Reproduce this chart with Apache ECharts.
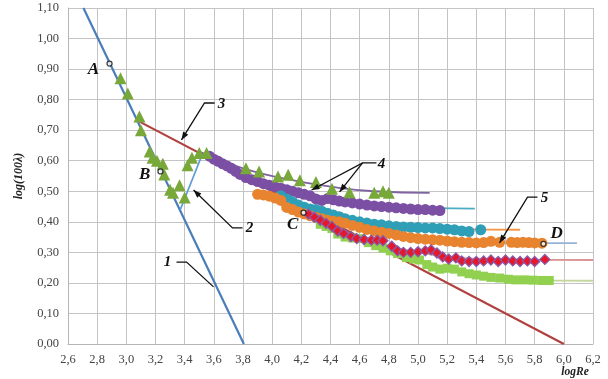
<!DOCTYPE html>
<html>
<head>
<meta charset="utf-8">
<script src="https://cdn.jsdelivr.net/npm/echarts@6/dist/echarts.min.js"></script>
<style>
html, body { margin: 0; padding: 0; background: #fff; }
#chart { width: 608px; height: 379px; }
</style>
</head>
<body>
<div id="chart"></div>
<script>
// theory lines
const laminarLine = [[2.706, 1.10], [3.806, 0.00]];
const transitionLine = [[3.37, 0.44], [3.52, 0.62]];
const blasiusLine = [[3.09, 0.728], [6.00, 0.00]];

// measured points
const triangles = [[2.96,0.87],[3.01,0.82],[3.09,0.745],[3.10,0.70],[3.16,0.63],[3.18,0.61],[3.21,0.60],[3.25,0.59],[3.26,0.555],[3.30,0.505],[3.32,0.495],[3.365,0.52],[3.40,0.48],[3.42,0.585],[3.45,0.61],[3.50,0.625],[3.55,0.625],[3.82,0.575],[3.91,0.565],[4.04,0.548],[4.11,0.554],[4.19,0.536],[4.30,0.53],[4.41,0.508],[4.53,0.497],[4.70,0.495],[4.76,0.50],[4.80,0.495]];
const purpleDots = [[3.57,0.615],[3.60,0.605],[3.63,0.598],[3.66,0.59],[3.69,0.583],[3.72,0.575],[3.75,0.565],[3.78,0.555],[3.82,0.545],[3.86,0.538],[3.90,0.532],[3.94,0.525],[3.98,0.52],[4.02,0.514],[4.06,0.51],[4.10,0.505],[4.14,0.50],[4.18,0.495],[4.22,0.49],[4.26,0.485],[4.30,0.475],[4.34,0.47],[4.38,0.476],[4.42,0.472],[4.46,0.468],[4.50,0.465],[4.55,0.462],[4.60,0.458],[4.65,0.455],[4.70,0.452],[4.75,0.45],[4.80,0.448],[4.85,0.446],[4.90,0.444],[4.95,0.442],[5.00,0.44],[5.05,0.44],[5.10,0.438],[5.15,0.437]];
const tealDots = [[4.06,0.485],[4.10,0.475],[4.14,0.465],[4.18,0.455],[4.22,0.448],[4.26,0.442],[4.30,0.44],[4.34,0.435],[4.38,0.428],[4.42,0.422],[4.46,0.417],[4.50,0.41],[4.55,0.405],[4.60,0.40],[4.65,0.396],[4.70,0.392],[4.75,0.39],[4.80,0.387],[4.85,0.385],[4.90,0.383],[4.95,0.382],[5.00,0.381],[5.05,0.38],[5.10,0.38],[5.15,0.378],[5.20,0.376],[5.25,0.374],[5.30,0.37],[5.35,0.368],[5.43,0.374]];
const orangeDots = [[3.90,0.49],[3.94,0.488],[3.98,0.484],[4.02,0.478],[4.06,0.47],[4.10,0.447],[4.14,0.44],[4.18,0.432],[4.22,0.426],[4.26,0.42],[4.30,0.415],[4.34,0.41],[4.38,0.405],[4.42,0.402],[4.46,0.40],[4.50,0.395],[4.55,0.388],[4.60,0.382],[4.65,0.375],[4.70,0.37],[4.75,0.366],[4.80,0.362],[4.85,0.357],[4.90,0.352],[4.95,0.348],[5.00,0.345],[5.05,0.343],[5.10,0.341],[5.15,0.34],[5.20,0.337],[5.25,0.335],[5.30,0.333],[5.35,0.332],[5.40,0.331],[5.45,0.332],[5.50,0.336],[5.56,0.333],[5.64,0.333],[5.68,0.332],[5.72,0.333],[5.76,0.332],[5.80,0.331],[5.85,0.33]];
const redDiamonds = [[4.25,0.425],[4.29,0.415],[4.33,0.405],[4.37,0.395],[4.41,0.385],[4.45,0.37],[4.49,0.362],[4.54,0.352],[4.58,0.345],[4.63,0.342],[4.68,0.34],[4.72,0.34],[4.76,0.338],[4.82,0.32],[4.86,0.305],[4.90,0.30],[4.95,0.30],[5.00,0.302],[5.05,0.305],[5.09,0.308],[5.13,0.298],[5.17,0.285],[5.21,0.278],[5.26,0.282],[5.30,0.272],[5.35,0.27],[5.40,0.27],[5.45,0.272],[5.50,0.275],[5.55,0.27],[5.60,0.275],[5.65,0.272],[5.70,0.27],[5.75,0.272],[5.80,0.27],[5.87,0.277]];
const greenSquares = [[4.33,0.392],[4.37,0.385],[4.41,0.378],[4.45,0.36],[4.50,0.35],[4.55,0.347],[4.61,0.345],[4.66,0.332],[4.71,0.322],[4.76,0.314],[4.81,0.305],[4.86,0.296],[4.92,0.283],[4.97,0.278],[5.01,0.275],[5.06,0.26],[5.10,0.252],[5.15,0.245],[5.20,0.248],[5.25,0.245],[5.30,0.236],[5.35,0.23],[5.40,0.226],[5.45,0.222],[5.50,0.218],[5.56,0.216],[5.62,0.212],[5.67,0.21],[5.73,0.21],[5.79,0.209],[5.85,0.208],[5.90,0.208]];

// fitted curves (thin lines)
const fitPurple = [[3.50,0.63],[3.80,0.575],[4.10,0.54],[4.40,0.515],[4.70,0.50],[5.08,0.495]];
const fitTeal = [[3.60,0.60],[4.00,0.52],[4.40,0.47],[4.80,0.45],[5.39,0.443]];
const fitOrange = [[4.00,0.49],[4.40,0.42],[4.80,0.385],[5.20,0.377],[5.70,0.374]];
const fitLightBlue = [[3.90,0.49],[4.40,0.40],[4.80,0.355],[5.40,0.333],[6.09,0.33]];
const fitPink = [[4.20,0.43],[4.60,0.35],[5.00,0.30],[5.50,0.278],[6.20,0.275]];
const fitLightGreen = [[4.30,0.39],[4.80,0.31],[5.20,0.25],[5.70,0.21],[6.20,0.207]];

// labelled points A-D
const pointNames = ["A", "B", "C", "D"];
const pointCoords = [[2.885,0.918],[3.234,0.565],[4.215,0.43],[5.86,0.328]];
const pointLabelCoords = [[2.775,0.897],[3.125,0.553],[4.14,0.39],[5.95,0.363]];

// numbered leaders: text position, then polyline, last point gets an arrow
const leaderNames = ["1", "2", "3", "4", "4", "5"];
const leaderText = [[3.282,0.268],[3.845,0.38],[3.652,0.786],[4.749,0.589],null,[5.867,0.478]];
const leaderPaths = [
    [[3.344,0.268],[3.413,0.268],[3.598,0.187]],
    [[3.797,0.38],[3.728,0.38],[3.461,0.504]],
    [[3.605,0.789],[3.536,0.789],[3.378,0.668]],
    [[4.715,0.593],[4.62,0.593],[4.27,0.504]],
    [[4.62,0.593],[4.462,0.498]],
    [[5.819,0.481],[5.751,0.481],[5.559,0.331]]
];

const serif = '"Liberation Serif", "DejaVu Serif", serif';

const chart = echarts.init(document.getElementById("chart"));

function fitLine(data, color) {
    return {
        type: "line", data: data, smooth: true, symbol: "none", z: 1,
        lineStyle: { color: color, width: 1.8 }
    };
}
function dots(data, symbol, size, color, border) {
    return {
        type: "scatter", data: data, symbol: symbol, symbolSize: size, z: 3,
        itemStyle: { color: color, opacity: 1, borderColor: border || color, borderWidth: border ? 1.3 : 0 }
    };
}

const option = {
    animation: false,
    grid: { left: 68, right: 15, top: 8, bottom: 35 },
    xAxis: {
        type: "value", min: 2.6, max: 6.2, interval: 0.2,
        axisLine: { show: true, lineStyle: { color: "#b5b5b5" } },
        axisTick: { show: false },
        axisLabel: {
            color: "#444", fontFamily: serif, fontSize: 12.5, margin: 9,
            formatter: (v) => v.toFixed(1).replace(".", ",")
        },
        splitLine: { show: true, lineStyle: { color: "#c4c4c4", width: 1 } }
    },
    yAxis: {
        type: "value", min: 0, max: 1.1, interval: 0.1,
        name: "log(100λ)", nameLocation: "middle", nameGap: 43, nameRotate: 90,
        nameTextStyle: { fontFamily: serif, fontStyle: "italic", fontWeight: "bold", fontSize: 12, color: "#222" },
        axisLine: { show: true, lineStyle: { color: "#b5b5b5" } },
        axisTick: { show: false },
        axisLabel: {
            color: "#444", fontFamily: serif, fontSize: 12.5, margin: 9,
            formatter: (v) => v.toFixed(2).replace(".", ",")
        },
        splitLine: { show: true, lineStyle: { color: "#c4c4c4", width: 1 } }
    },
    series: [
        fitLine(fitPurple, "#8064a2"),
        fitLine(fitTeal, "#4bacc6"),
        fitLine(fitOrange, "#f79646"),
        fitLine(fitLightBlue, "#95b3d7"),
        fitLine(fitPink, "#d99694"),
        fitLine(fitLightGreen, "#c3d69b"),
        { type: "line", data: laminarLine, symbol: "none", z: 2, lineStyle: { color: "#4a7ebb", width: 2.2 } },
        { type: "line", data: transitionLine, symbol: "none", z: 2, lineStyle: { color: "#5b9bd5", width: 1.6 } },
        { type: "line", data: blasiusLine, symbol: "none", z: 2, lineStyle: { color: "#b0413e", width: 2.2 } },
        dots(purpleDots, "circle", 11, "#7b4fa3"),
        dots(tealDots, "circle", 11, "#2f9fb8"),
        dots(orangeDots, "circle", 11, "#e8842f"),
        dots(greenSquares, "rect", 9, "#92d050"),
        dots(redDiamonds, "diamond", 10, "#e8162a", "#8a5aa8"),
        dots(triangles, "triangle", 12, "#79a83a"),
        {
            type: "scatter", data: pointCoords, symbol: "circle", symbolSize: 5, z: 5,
            itemStyle: { color: "#fff", borderColor: "#111", borderWidth: 1.3 }
        }
    ]
};
chart.setOption(option);

// annotations placed through the grid's own coordinate system
function toPx(p) { return chart.convertToPixel({ gridIndex: 0 }, p); }
function arrowHead(a, b) {
    const dx = b[0] - a[0], dy = b[1] - a[1];
    const len = Math.sqrt(dx * dx + dy * dy);
    const ux = dx / len, uy = dy / len;
    const L = 8, W = 3;
    return [
        [b[0], b[1]],
        [b[0] - ux * L - uy * W, b[1] - uy * L + ux * W],
        [b[0] - ux * L + uy * W, b[1] - uy * L - ux * W]
    ];
}
const elements = [];
leaderPaths.forEach((path, i) => {
    const pts = path.map(toPx);
    elements.push({ type: "polyline", shape: { points: pts }, style: { stroke: "#111", lineWidth: 1.3, fill: null }, z: 10 });
    if (i !== 0) {
        elements.push({ type: "polygon", shape: { points: arrowHead(pts[pts.length - 2], pts[pts.length - 1]) }, style: { fill: "#111" }, z: 10 });
    }
    if (leaderText[i]) {
        const t = toPx(leaderText[i]);
        elements.push({
            type: "text", x: t[0], y: t[1], z: 10,
            style: { text: leaderNames[i], fontFamily: serif, fontStyle: "italic", fontWeight: "bold", fontSize: 15, fill: "#111", align: "center", verticalAlign: "middle" }
        });
    }
});
pointNames.forEach((n, i) => {
    const t = toPx(pointLabelCoords[i]);
    elements.push({
        type: "text", x: t[0], y: t[1], z: 10,
        style: { text: n, fontFamily: serif, fontStyle: "italic", fontWeight: "bold", fontSize: 17, fill: "#111", align: "center", verticalAlign: "middle" }
    });
});
elements.push({
    type: "text", x: 575, y: 372, z: 10,
    style: { text: "logRe", fontFamily: serif, fontStyle: "italic", fontWeight: "bold", fontSize: 11.5, fill: "#222", align: "center", verticalAlign: "middle" }
});
chart.setOption({ graphic: { elements: elements } });
</script>
</body>
</html>
